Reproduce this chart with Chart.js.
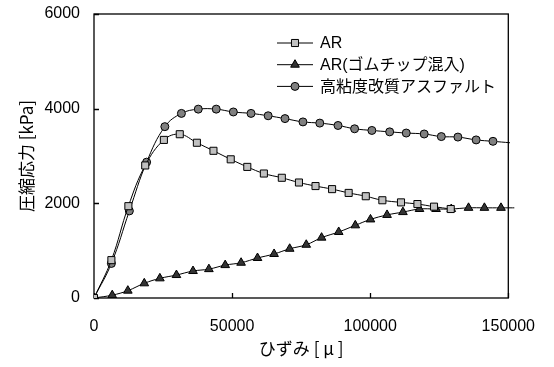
<!DOCTYPE html>
<html>
<head>
<meta charset="utf-8">
<script src="https://cdn.jsdelivr.net/npm/chart.js@4/dist/chart.umd.min.js"></script>
<style>
  html, body { margin: 0; padding: 0; background: #fff; }
</style>
</head>
<body>
<canvas id="grafico" width="554" height="367"></canvas>
<script>
// datos (ひずみ [μ] vs 圧縮応力 [kPa])
const nombres = ['AR', 'AR(ゴムチップ混入)', '高粘度改質アスファルト'];

const arX = [0, 6300, 12450, 18550, 25300, 31050, 37250, 43250, 49500, 55500, 61500, 68000, 74200, 80200, 86200, 92200, 98400, 104400, 111150, 117100, 123100, 129150];
const arY = [0, 800, 1940, 2800, 3340, 3460, 3280, 3110, 2930, 2770, 2630, 2540, 2440, 2365, 2300, 2220, 2150, 2065, 2020, 1985, 1930, 1880];

const gomaX = [0, 6600, 12250, 18200, 23850, 29850, 35850, 41600, 47500, 53250, 59200, 65200, 70850, 76850, 82400, 88600, 94600, 100100, 106100, 111850, 117850, 123850, 129350, 135600, 141350, 147350, 153000];
const gomaY = [0, 60, 155, 310, 415, 485, 570, 610, 695, 745, 845, 930, 1040, 1125, 1275, 1395, 1535, 1660, 1755, 1815, 1880, 1880, 1880, 1905, 1905, 1905, 1905];

const kouX = [0, 6300, 12800, 19050, 25650, 31650, 37750, 44250, 50450, 56850, 63050, 69150, 75650, 81750, 88350, 94350, 100600, 107050, 113050, 119550, 125750, 131750, 138350, 144450, 150600];
const kouY = [0, 730, 1840, 2870, 3620, 3900, 3990, 3990, 3930, 3900, 3850, 3790, 3720, 3695, 3645, 3575, 3540, 3510, 3485, 3465, 3410, 3400, 3340, 3310, 3280];

const xTicks = [0, 50000, 100000, 150000];
const yTicks = [0, 2000, 4000, 6000];

function puntos(xs, ys) {
  return xs.map((x, i) => ({ x: x, y: ys[i] }));
}

// radio 0 para los puntos fuera del eje (solo la línea sigue)
function radio(r) {
  return ctx => (ctx.raw && ctx.raw.x > 150000 ? 0 : r);
}

const estilos = [
  { forma: 'rect', r: 5, relleno: '#c0c0c0' },
  { forma: 'triangle', r: 5, relleno: '#333333' },
  { forma: 'circle', r: 4, relleno: '#808080' }
];

function dibujarMarcador(ctx, est, x, y) {
  ctx.save();
  ctx.fillStyle = est.relleno;
  ctx.strokeStyle = '#000';
  ctx.lineWidth = 1;
  ctx.beginPath();
  if (est.forma === 'rect') {
    const s = est.r * Math.SQRT2 / 2;
    ctx.rect(x - s, y - s, s * 2, s * 2);
  } else if (est.forma === 'triangle') {
    for (let k = 0; k < 3; k++) {
      const a = k * 2 * Math.PI / 3;
      const px = x + Math.sin(a) * est.r;
      const py = y - Math.cos(a) * est.r;
      if (k === 0) ctx.moveTo(px, py); else ctx.lineTo(px, py);
    }
    ctx.closePath();
  } else {
    ctx.arc(x, y, est.r, 0, Math.PI * 2);
  }
  ctx.fill();
  ctx.stroke();
  ctx.restore();
}

const marco = {
  id: 'marco',
  beforeDatasetsDraw(chart) {
    const ctx = chart.ctx;
    const a = chart.chartArea;
    const sx = chart.scales.x;
    const sy = chart.scales.y;
    ctx.save();
    ctx.strokeStyle = '#000';
    ctx.lineWidth = 1.3;
    ctx.strokeRect(a.left, a.top, a.right - a.left, a.bottom - a.top);
    ctx.beginPath();
    xTicks.forEach(v => {
      const px = Math.round(sx.getPixelForValue(v)) + 0.5;
      ctx.moveTo(px, a.bottom);
      ctx.lineTo(px, a.bottom - 5);
    });
    yTicks.forEach(v => {
      const py = Math.round(sy.getPixelForValue(v)) + 0.5;
      ctx.moveTo(a.left, py);
      ctx.lineTo(a.left + 5, py);
    });
    ctx.stroke();
    ctx.restore();
  },
  afterDraw(chart) {
    const ctx = chart.ctx;
    const a = chart.chartArea;
    const x0 = a.left + 183;
    ctx.save();
    ctx.font = '16px "Liberation Sans", "Noto Sans CJK JP", sans-serif';
    ctx.textBaseline = 'middle';
    ctx.fillStyle = '#000';
    nombres.forEach((n, i) => {
      const y = a.top + 29 + i * 21.7;
      ctx.strokeStyle = '#000';
      ctx.lineWidth = 1;
      ctx.beginPath();
      ctx.moveTo(x0, y);
      ctx.lineTo(x0 + 36, y);
      ctx.stroke();
      dibujarMarcador(ctx, estilos[i], x0 + 18, y);
      ctx.fillText(n, x0 + 43, y + 1);
    });
    ctx.restore();
  }
};

const series = [
  { label: nombres[0], data: puntos(arX, arY) },
  { label: nombres[1], data: puntos(gomaX, gomaY) },
  { label: nombres[2], data: puntos(kouX, kouY) }
].map((s, i) => ({
  label: s.label,
  data: s.data,
  showLine: true,
  borderColor: '#000',
  borderWidth: 1,
  tension: 0.4,
  pointStyle: estilos[i].forma,
  pointRadius: radio(estilos[i].r),
  pointBackgroundColor: estilos[i].relleno,
  pointBorderColor: '#000',
  pointBorderWidth: 1,
  clip: { left: 0, top: 0, right: 6, bottom: 0 }
}));

const fuenteTicks = { family: '"Liberation Sans", Arial, sans-serif', size: 16 };
const fuenteTitulo = { family: '"Noto Sans CJK JP", sans-serif', size: 17 };

new Chart(document.getElementById('grafico'), {
  type: 'scatter',
  data: { datasets: series },
  options: {
    responsive: false,
    animation: false,
    layout: { padding: { left: 0, right: 44, top: 14, bottom: 0 } },
    plugins: { legend: { display: false }, tooltip: { enabled: false } },
    scales: {
      x: {
        type: 'linear',
        min: 0,
        max: 150000,
        afterBuildTicks: s => { s.ticks = xTicks.map(v => ({ value: v })); },
        afterFit: s => { s.height = 69; },
        grid: { display: false, drawTicks: false },
        border: { display: false },
        ticks: { color: '#000', font: fuenteTicks, padding: 19, maxRotation: 0, callback: v => String(v) },
        title: { display: true, text: 'ひずみ [ μ ]', color: '#000', font: fuenteTitulo, padding: { top: 0, bottom: 8 } }
      },
      y: {
        type: 'linear',
        min: 0,
        max: 6000,
        afterBuildTicks: s => { s.ticks = yTicks.map(v => ({ value: v })); },
        afterFit: s => { s.width = 94; s.paddingTop = 0; s.paddingBottom = 0; },
        grid: { display: false, drawTicks: false },
        border: { display: false },
        ticks: { color: '#000', font: fuenteTicks, padding: 14, callback: v => String(v) },
        title: { display: true, text: '圧縮応力 [kPa]', color: '#000', font: fuenteTitulo, padding: { top: 16, bottom: 0 } }
      }
    }
  },
  plugins: [marco]
});
</script>
</body>
</html>
